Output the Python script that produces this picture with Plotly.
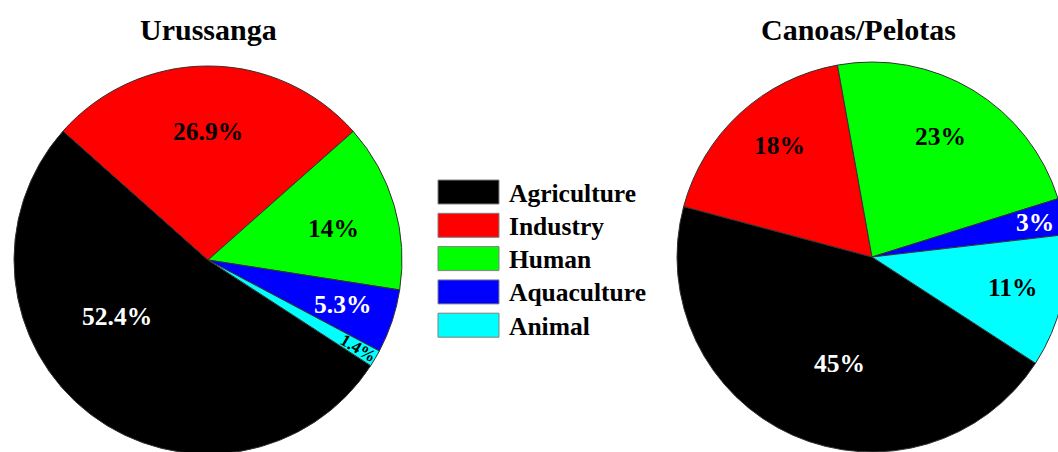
import math
import plotly.graph_objects as go

# Pollution source shares (%) for the two river basins
sources = ["Agriculture", "Industry", "Human", "Aquaculture", "Animal"]
urussanga = [52.4, 26.9, 14, 5.3, 1.4]
canoas_pelotas = [45, 18, 23, 3, 11]

colors = ["#000000", "#ff0000", "#00ff00", "#0000ff", "#00ffff"]
label_colors = ["white", "black", "black", "white", "black"]

FONT = "Liberation Serif"
W, H = 1080, 470  # canvas slightly larger than the view so the pies run off the edges
ROTATION = 123    # start angle of the first slice, clockwise from 12 o'clock

# pie placement in pixels: centre x, centre y, radius
PIES = [
    dict(title="Urussanga", values=urussanga, cx=208, cy=260, r=194, title_x=208),
    dict(title="Canoas/Pelotas", values=canoas_pelotas, cx=872, cy=257, r=195, title_x=858),
]

# label placement inside each slice: (fraction of radius, angular nudge in degrees)
LABEL_POS = [
    [(0.55, 21), (0.66, 0), (0.665, 2), (0.73, 0), (0.90, 0)],
    [(0.57, -7), (0.745, 3), (0.71, -1.5), (0.855, 0), (0.74, -1)],
]
# per-slice label style: (font size, rotated along the radius?)
LABEL_STYLE = [
    [(25.5, False), (25.5, False), (25.5, False), (25.5, False), (17, True)],
    [(25.5, False), (25.5, False), (25.5, False), (25.5, False), (25.5, False)],
]


def px_x(x):
    return x / W


def px_y(y):
    return 1 - y / H


fig = go.Figure()
annotations = []

for k, p in enumerate(PIES):
    cx, cy, r = p["cx"], p["cy"], p["r"]
    fig.add_trace(go.Pie(
        labels=sources, values=p["values"], sort=False, direction="clockwise",
        rotation=ROTATION,
        marker=dict(colors=colors, line=dict(color="#333333", width=1)),
        textinfo="none",
        domain=dict(x=[px_x(cx - r), px_x(cx + r)], y=[px_y(cy + r), px_y(cy - r)]),
        showlegend=False, hoverinfo="label+percent", name=p["title"],
    ))
    annotations.append(dict(
        text=p["title"], x=px_x(p["title_x"]), y=px_y(30), xref="paper", yref="paper",
        showarrow=False, xanchor="center", yanchor="middle",
        font=dict(family=FONT, size=30, color="black", weight="bold")))

    # slice labels placed along each slice's bisector
    total = sum(p["values"])
    start = ROTATION
    for i, v in enumerate(p["values"]):
        span = 360 * v / total
        frac, nudge = LABEL_POS[k][i]
        size, radial = LABEL_STYLE[k][i]
        ang = start + span / 2 + nudge
        a = math.radians(ang)
        lx = cx + frac * r * math.sin(a)
        ly = cy - frac * r * math.cos(a)
        annotations.append(dict(
            text=f"{v:g}%", x=px_x(lx), y=px_y(ly), xref="paper", yref="paper",
            showarrow=False, xanchor="center", yanchor="middle",
            textangle=(ang - 90) if radial else 0,
            font=dict(family=FONT, size=size, color=label_colors[i], weight="bold")))
        start += span

# Hand-built legend with wide colour swatches
shapes = []
row_top, row_step, sw_h = 180, 33.3, 24
for i, (name, col) in enumerate(zip(sources, colors)):
    top = row_top + i * row_step
    shapes.append(dict(type="rect", xref="paper", yref="paper",
                       x0=px_x(438), x1=px_x(499), y0=px_y(top + sw_h), y1=px_y(top),
                       fillcolor=col, line=dict(color="#808080", width=1)))
    annotations.append(dict(text=name, x=px_x(507), y=px_y(top + sw_h / 2 + 1),
                            xref="paper", yref="paper", showarrow=False,
                            xanchor="left", yanchor="middle",
                            font=dict(family=FONT, size=25.5, color="black", weight="bold")))

fig.update_layout(
    width=W, height=H,
    margin=dict(l=0, r=0, t=0, b=0),
    paper_bgcolor="white", plot_bgcolor="white",
    annotations=annotations, shapes=shapes,
)

fig.write_html(
    "out.html",
    post_script="document.documentElement.style.overflow='hidden';"
                "document.body.style.overflow='hidden';",
)
